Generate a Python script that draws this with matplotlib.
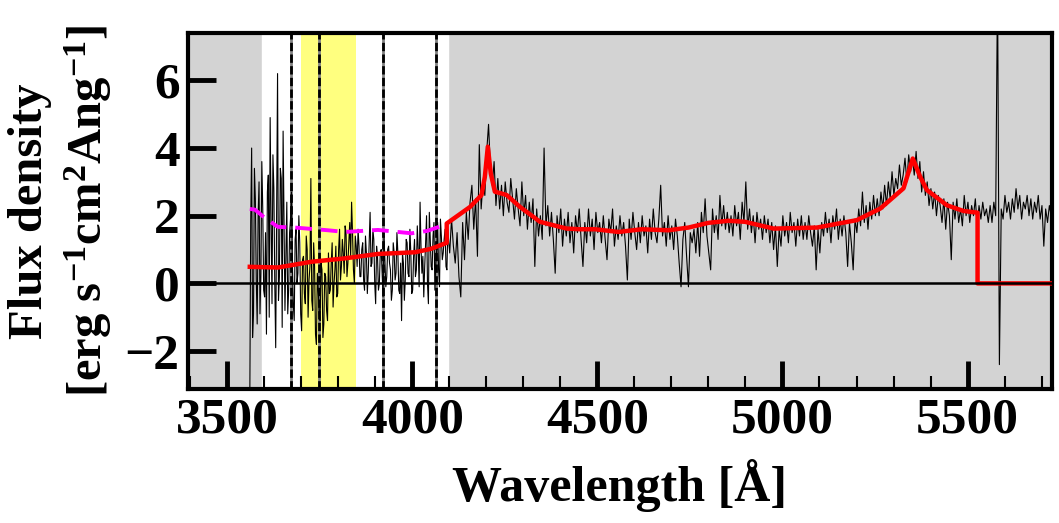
import numpy as np
import matplotlib
matplotlib.use('Agg')
import matplotlib.pyplot as plt

plt.rcParams['font.family'] = 'Liberation Serif'
plt.rcParams['font.weight'] = 'bold'
plt.rcParams['mathtext.fontset'] = 'custom'
plt.rcParams['mathtext.rm'] = 'Liberation Serif:bold'
plt.rcParams['mathtext.bf'] = 'Liberation Serif:bold'
plt.rcParams['mathtext.it'] = 'Liberation Serif:bold:italic'

# observed spectrum, 5 A sampling starting at 3561 A
WAVE_START = 3561
WAVE_STEP = 5
flux = [
    -3.5, 4.0, -0.9, 2.5, -1.2, 3.0, 0.3, 2.2, -0.4, -1.5, 3.2, 4.9, -0.6, 2.8, -1.9, 6.2, 0.2, 3.1, 4.5, -0.8,
    2.4, -0.2, 1.9, 0.6, -1.1, 1.6, 0.3, 1.2, -1.4, 0.8, -0.6, 1.0, 0.1, 3.1, -0.8, 0.5, -1.8, -0.2, -1.1, 0.4,
    -1.2, 0.2, -1.1, -0.3, 0.6, -0.7, 0.4, -0.4, 1.0, 0.1, 1.3, 0.3, 1.5, 0.6, 1.8, 2.4, 0.4, 1.4, 0.5, 1.1,
    0.2, 1.2, -0.2, 0.9, 0.3, 2.1, 0.6, 1.3, -0.6, 0.8, 0.0, 1.0, -0.4, 0.7, 0.2, 1.1, 0.4, -0.2, 0.9, 0.3,
    0.9, -0.3, -1.1, 0.6, 0.1, 1.2, 0.2, 0.9, -0.2, 1.3, 0.4, 1.0, 2.4, 0.3, -0.4, 1.2, 0.0, 2.1, 0.5, 1.4,
    -0.2, 1.0, 0.4, 1.9, 0.7, 1.3, 0.5, 1.6, 0.9, 1.9, 1.1, 0.6, 1.5, 0.2, -0.4, 1.8, 0.7, 2.1, 1.3, 2.4,
    2.9, 1.6, 2.5, 0.8, 4.1, 2.2, 3.0, 2.6, 3.9, 4.7, 3.4, 2.9, 3.6, 2.3, 3.1, 2.2, 2.9, 2.0, 3.0, 2.4,
    2.1, 3.1, 2.5, 1.9, 2.8, 2.2, 1.7, 3.0, 2.0, 2.6, 1.6, 2.4, 1.8, 2.5, 0.5, 2.2, 1.4, 2.0, 1.3, 4.0,
    1.7, 2.3, 1.4, 2.1, 1.3, 0.3, 2.0, 1.5, 2.2, 1.1, 1.9, 1.4, 2.1, 1.2, 1.8, 0.9, 2.0, 1.5, 2.2, 1.3,
    0.5, 1.8, 1.2, 2.2, 1.4, 1.9, 1.0, 2.1, 1.5, 1.8, 1.2, 2.0, 1.3, 0.7, 1.9, 1.5, 2.2, 1.1, 1.7, 1.3,
    2.0, 1.4, 1.8, 1.1, 0.1, 1.9, 1.3, 2.1, 1.5, 1.0, 1.8, 1.2, 2.0, 1.4, 1.7, 0.9, 1.9, 1.3, 2.2, 1.5,
    1.2, 1.9, 2.9, 1.4, 1.8, 1.1, 2.0, 1.3, 1.7, 1.0, 1.9, 1.4, 0.6, -0.1, 1.3, 1.8, 0.8, -0.1, 1.5, 1.2,
    1.6, 0.9, 1.8, 0.8, 2.1, 1.5, 2.5, 1.4, 0.9, 0.4, 2.2, 1.5, 2.0, 1.3, 2.6, 1.7, 2.3, 1.6, 2.1, 1.5,
    2.0, 1.4, 2.3, 1.7, 2.1, 1.3, 2.4, 1.8, 3.0, 1.6, 2.2, 1.5, 2.0, 1.2, 2.1, 1.6, 1.9, 1.3, 2.0, 1.5,
    1.9, 1.2, 1.8, 1.0, 1.7, 0.5, 1.6, 1.1, 2.0, 1.4, 1.8, 1.2, 2.1, 1.5, 1.8, 1.1, 1.9, 1.4, 2.0, 1.3,
    1.8, 1.3, 2.0, 1.5, 1.1, 1.7, 0.4, 1.6, 0.9, 1.8, 1.4, 2.1, 1.5, 1.9, 1.2, 2.0, 1.6, 2.2, 1.3, 1.9,
    1.4, 2.0, 1.5, 0.5, 1.8, 1.2, 0.4, 1.9, 1.5, 2.2, 1.7, 2.7, 1.8, 2.3, 1.6, 2.4, 1.9, 2.6, 2.0, 2.5,
    2.0, 2.7, 2.2, 2.9, 2.3, 3.0, 2.5, 3.3, 2.6, 3.1, 2.8, 3.5, 2.9, 3.2, 3.7, 3.0, 3.8, 3.3, 3.7, 3.2,
    3.9, 3.1, 3.6, 2.7, 3.3, 2.6, 3.0, 2.3, 2.8, 2.2, 2.7, 2.0, 2.6, 2.3, 1.8, 2.5, 1.6, 2.4, 2.0, 0.7,
    2.4, 1.9, 2.5, 1.8, 2.2, 1.7, 2.6, 2.0, 2.4, 1.8, 2.3, 2.0, 2.5, 1.7, 2.3, 1.9, 2.4, 2.0, 2.2, 1.8,
    2.3, 1.8, 2.4, 2.0, 9.0, -2.4, 2.2, 1.9, 2.6, 2.1, 2.4, 1.9, 2.5, 2.1, 2.8, 2.2, 2.6, 1.9, 2.4, 2.2,
    2.6, 2.0, 2.5, 1.9, 2.4, 2.1, 2.6, 1.9, 2.3, 1.1, 2.2, 1.8, 2.3, 2.0,
]

# extra samples in the noisy blue part, halfway between the ones above
BLUE_MID_START = 3563.5
flux_blue_mid = [
    1.8, -1.6, 3.4, 0.1, 2.0, -0.9, 3.6, -0.2, 1.5, 2.7, -1.0, 1.9, 3.8, 0.0, 2.3, -0.5, 3.4, -1.3, 1.8, 0.9,
    -0.9, 1.5, 2.7, -0.6, 1.3, 0.0, 2.0, -0.9, 0.7, -0.3, 1.4, -1.0, 0.5, -0.5, 1.2, -1.5, 0.3, -0.9, 0.6, -1.6,
    0.3, -0.8, 0.9, -0.2, 1.2, 0.0, 1.1, -0.3, 1.6, 0.5, 0.9, 1.7, 0.2, 1.2, 0.8, 1.5, 0.0, 1.1, 1.6, 0.2,
    1.0, 0.1, 1.4, -0.3, 1.2, 0.5, 1.6, 0.0, 1.1, -0.2, 0.9, 0.3, 1.4, -0.1, 1.0, 0.6, -0.5, 1.2, 0.1, 1.5,
    -0.2, 0.6, 0.9, -0.5, 1.3, 0.3, 1.6, -0.3, 0.8, 0.2, 1.7, -0.1, 1.1, 0.8, 0.5, 2.0, -0.6, 1.3, 0.4, 1.8,
    0.6, 1.8, -0.1, 1.4, 0.9, 1.6, 0.4, 1.2,
]

# model fit (red)
model_wave = [3561, 3637, 3728, 3818, 3907, 4007, 4050, 4093, 4093, 4156, 4187, 4196, 4204,
              4212, 4223, 4240, 4255, 4291, 4345, 4381, 4417, 4453, 4494, 4557, 4620, 4692,
              4746, 4800, 4854, 4899, 4976, 5093, 5201, 5264, 5327, 5352, 5372, 5390, 5444,
              5489, 5527, 5527, 5727]
model_flux = [0.49, 0.47, 0.64, 0.74, 0.87, 0.92, 1.02, 1.2, 1.77, 2.26, 2.61, 3.15, 4.04,
              3.25, 2.71, 2.66, 2.61, 2.26, 1.82, 1.72, 1.62, 1.6, 1.6, 1.52, 1.6, 1.57,
              1.65, 1.79, 1.85, 1.82, 1.62, 1.65, 1.87, 2.21, 2.81, 3.69, 3.15, 2.76, 2.31,
              2.14, 2.09, 0.0, 0.0]

# extrapolated model in the masked blue part (magenta dashed)
blue_wave = [3561, 3575, 3600, 3637, 3683, 3772, 3818, 3907, 3998, 4040, 4093]
blue_flux = [2.2, 2.18, 1.95, 1.67, 1.65, 1.57, 1.52, 1.58, 1.48, 1.55, 1.75]

fit_window = (3593, 4096)
yellow_band = (3699, 3848)
line_marks = [3673, 3749, 3921, 4064]

wave = np.concatenate([WAVE_START + WAVE_STEP * np.arange(len(flux)),
                       BLUE_MID_START + WAVE_STEP * np.arange(len(flux_blue_mid))])
spec = np.concatenate([flux, flux_blue_mid])
order = np.argsort(wave, kind='stable')
wave, spec = wave[order], spec[order]

fig = plt.figure(figsize=(10.59, 5.23), dpi=100)
ax = fig.add_subplot(111)
fig.subplots_adjust(left=0.1775, right=0.993, bottom=0.2556, top=0.9363)

ax.set_facecolor('lightgray')
ax.axvspan(*fit_window, color='white', zorder=0)
ax.axvspan(*yellow_band, color='yellow', alpha=0.5, lw=0, zorder=0.5)
for w in line_marks:
    ax.axvline(w, color='gray', lw=2, zorder=1)
    ax.axvline(w, color='k', lw=2, ls=(0, (3.0, 1.2)), zorder=1.1)

ax.plot(wave, spec, color='k', lw=0.8, zorder=2)
ax.plot(blue_wave, blue_flux, color='magenta', lw=2.8, ls=(0, (4.3, 2.3)), zorder=3)
ax.plot(model_wave, model_flux, color='red', lw=3.2, zorder=3)
ax.axhline(0, color='k', lw=1.8, zorder=4)

ax.set_xlim(3394, 5727)
ax.set_ylim(-3.13, 7.39)
ax.set_xticks([3500, 4000, 4500, 5000, 5500])
ax.set_xticks(np.arange(3400, 5800, 100), minor=True)
ax.set_yticks([-2, 0, 2, 4, 6])

ax.tick_params(which='major', direction='in', length=20, width=3.5, labelsize=37, pad=6)
ax.tick_params(which='minor', direction='in', length=9.5, width=1.5)
ax.tick_params(axis='y', which='minor', left=False)
for s in ax.spines.values():
    s.set_linewidth(3)

ax.set_xlabel('Wavelength [Å]', fontsize=36, fontweight='bold', labelpad=11)
ax.set_ylabel('Flux density\n[erg s$^{-1}$cm$^2$Ang$^{-1}$]', fontsize=35,
              fontweight='bold', linespacing=1.25, labelpad=8)

fig.savefig('out.png', dpi=100)
